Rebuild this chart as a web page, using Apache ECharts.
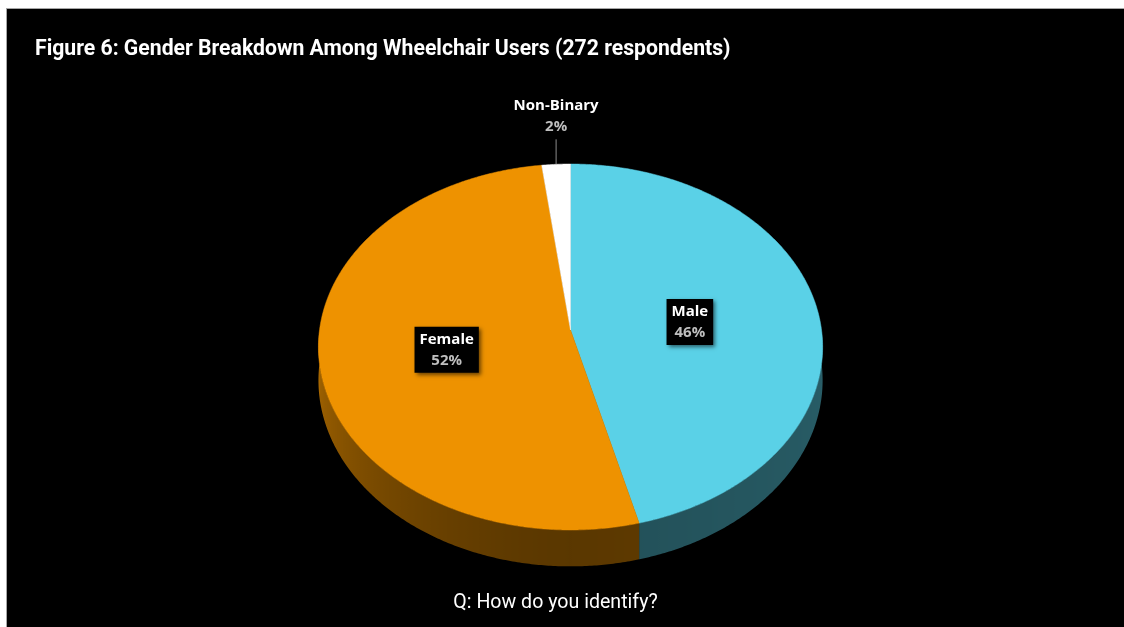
<!DOCTYPE html>
<html>
<head>
<meta charset="utf-8">
<script src="https://cdn.jsdelivr.net/npm/echarts@6/dist/echarts.min.js"></script>
<style>
  html, body { margin: 0; padding: 0; background: #ffffff; width: 1124px; height: 627px; overflow: hidden; }
  #frame { position: absolute; left: 6px; top: 8px; right: 0; bottom: 0;
           border-left: 1px solid #a6a6a6; border-top: 1px solid #a6a6a6; background: #000; }
  #chart { width: 1117px; height: 618px; }
</style>
</head>
<body>
<div id="frame"><div id="chart"></div></div>
<script>
// Survey answers: share of respondents (%) per gender
const categories = ['Male', 'Female', 'Non-Binary'];
const shares = [46, 52, 2];
const titleText = 'Figure 6: Gender Breakdown Among Wheelchair Users (272 respondents)';
const questionText = 'Q: How do you identify?';

// slice palette (top faces)
const palette = ['#5AD1E7', '#EE9200', '#FFFFFF'];

const total = shares.reduce((a, b) => a + b, 0);
const startDeg = [];
let acc = 0;
shares.forEach(v => { startDeg.push(acc / total * 360); acc += v; });

// tilted-disc geometry: angles measured clockwise from 12 o'clock
const disc = { cxFrac: 0.5045, cyFrac: 0.5194, rx: 251, ry: 181.4, k: 0.093, h: 33 };

function project(g, deg, r, drop) {
  const t = deg * Math.PI / 180;
  const X = r * Math.sin(t), Z = -r * Math.cos(t);
  const p = 1 / (1 - g.k * Z);
  return [g.cx + g.rx * X * p, g.cy + g.ry * Z * p + (drop ? g.h * p : 0)];
}

// darkening of the rim, lit from the left
function shadeFactor(d) {
  if (d >= 180) return 0.38 + 0.34 * Math.pow((d - 180) / 90, 1.5);
  return 0.38 + 0.07 * ((180 - d) / 90);
}

function scaleColor(hex, f) {
  const n = parseInt(hex.slice(1), 16);
  const r = Math.round(((n >> 16) & 255) * f);
  const g = Math.round(((n >> 8) & 255) * f);
  const b = Math.round((n & 255) * f);
  return 'rgb(' + r + ',' + g + ',' + b + ')';
}

function renderSlice(params, api) {
  const i = params.dataIndex;
  const g = Object.assign({}, disc, {
    cx: api.getWidth() * disc.cxFrac,
    cy: api.getHeight() * disc.cyFrac
  });
  const a0 = startDeg[i];
  const a1 = a0 + api.value(0) / total * 360;
  const color = palette[i];
  const children = [];

  // visible side wall (front half of the disc), shaded with a horizontal gradient
  const s0 = Math.max(a0, 90), s1 = Math.min(a1, 270);
  if (s1 > s0) {
    const top = [], bottom = [], samples = [];
    for (let d = s0; d <= s1 + 1e-6; d += 0.5) {
      const dd = Math.min(d, s1);
      top.push(project(g, dd, 1, false));
      bottom.push(project(g, dd, 1, true));
      samples.push(dd);
    }
    if (samples[samples.length - 1] < s1) {
      top.push(project(g, s1, 1, false));
      bottom.push(project(g, s1, 1, true));
      samples.push(s1);
    }
    const xs = top.map(p => p[0]);
    const xMin = Math.min.apply(null, xs), xMax = Math.max.apply(null, xs);
    const stops = samples.map((d, j) => ({
      offset: xMax > xMin ? (xs[j] - xMin) / (xMax - xMin) : 0,
      color: scaleColor(color, shadeFactor(d))
    })).sort((a, b) => a.offset - b.offset);
    children.push({
      type: 'polygon', z2: 1,
      shape: { points: top.concat(bottom.slice().reverse()) },
      style: {
        fill: { type: 'linear', x: xMin, y: 0, x2: xMax, y2: 0, global: true, colorStops: stops }
      }
    });
  }

  // top face
  const pts = [project(g, 0, 0, false)];
  for (let d = a0; d < a1; d += 0.5) pts.push(project(g, d, 1, false));
  pts.push(project(g, a1, 1, false));
  children.push({
    type: 'polygon', z2: 10,
    shape: { points: pts },
    style: { fill: color, stroke: color, lineWidth: 0.5 }
  });

  const mid = (a0 + a1) / 2;
  const valueText = shares[i] + '%';
  const rich = {
    n: { fill: '#ffffff', fontFamily: 'Open Sans', fontWeight: 'bold', fontSize: 15, lineHeight: 21, align: 'center' },
    v: { fill: '#BFBFBF', fontFamily: 'Open Sans', fontWeight: 'bold', fontSize: 15, lineHeight: 21, align: 'center' }
  };

  if (api.value(0) / total >= 0.1) {
    // boxed label inside the slice
    const lp = project(g, mid, 0.49, false);
    children.push({
      type: 'text', z2: 30, x: lp[0] - 2, y: lp[1] + 3,
      style: {
        text: '{n|' + categories[i] + '}\n{v|' + valueText + '}',
        rich: rich, align: 'center', verticalAlign: 'middle',
        backgroundColor: '#000000', padding: [2, 5, 2, 5],
        shadowBlur: 4, shadowColor: 'rgba(0,0,0,0.55)', shadowOffsetX: 2, shadowOffsetY: 2
      }
    });
  } else {
    // small slice: label above the rim with a leader line
    const rp = project(g, mid, 1, false);
    children.push({
      type: 'line', z2: 30,
      shape: { x1: rp[0], y1: rp[1], x2: rp[0], y2: rp[1] - 25 },
      style: { stroke: '#8c8c8c', lineWidth: 1 }
    });
    children.push({
      type: 'text', z2: 30, x: rp[0], y: rp[1] - 27,
      style: {
        text: '{n|' + categories[i] + '}\n{v|' + valueText + '}',
        rich: rich, align: 'center', verticalAlign: 'bottom'
      }
    });
  }
  return { type: 'group', children: children };
}

const chart = echarts.init(document.getElementById('chart'), null, { renderer: 'canvas' });
chart.setOption({
  backgroundColor: '#000000',
  animation: false,
  title: {
    text: titleText, left: 23, top: 25,
    textStyle: { color: '#ffffff', fontFamily: 'Roboto', fontWeight: 'bold', fontSize: 21.2 }
  },
  graphic: [{
    type: 'text', x: 548.5, y: 594, z: 10,
    style: {
      text: questionText, align: 'center', verticalAlign: 'middle',
      fill: '#ffffff', fontFamily: 'Roboto', fontSize: 19.6
    }
  }],
  series: [{
    type: 'custom',
    coordinateSystem: 'none',
    data: shares.map((v, i) => ({ name: categories[i], value: [v] })),
    renderItem: renderSlice
  }]
});
</script>
</body>
</html>
